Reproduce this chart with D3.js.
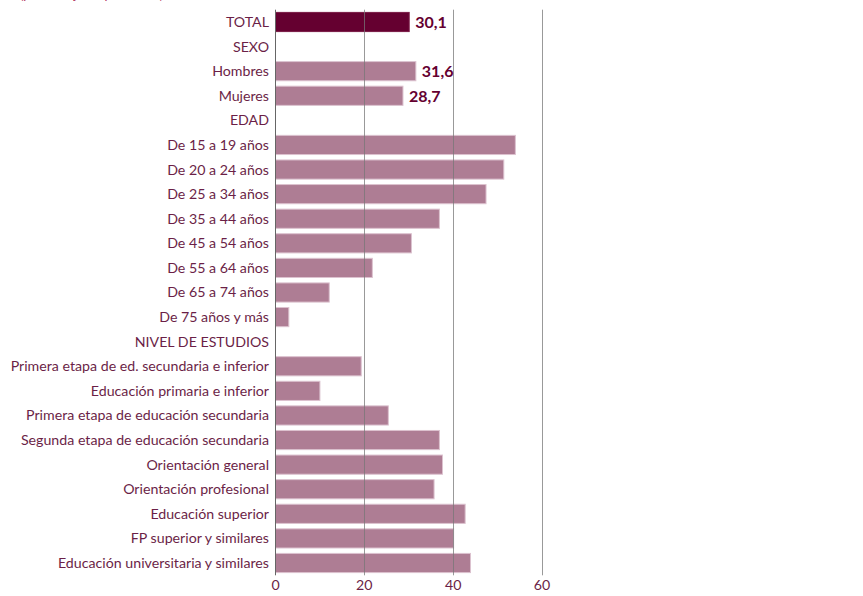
<!DOCTYPE html>
<html>
<head>
<meta charset="utf-8">
<script src="https://cdn.jsdelivr.net/npm/d3@7"></script>
<style>
  body { margin: 0; background: #fff; }
  svg { display: block; font-family: Lato, "Open Sans", sans-serif; }
</style>
</head>
<body>
<script>
// categories, top to bottom
var categories = [
  'TOTAL', 'SEXO', 'Hombres', 'Mujeres', 'EDAD',
  'De 15 a 19 años', 'De 20 a 24 años', 'De 25 a 34 años', 'De 35 a 44 años',
  'De 45 a 54 años', 'De 55 a 64 años', 'De 65 a 74 años', 'De 75 años y más',
  'NIVEL DE ESTUDIOS',
  'Primera etapa de ed. secundaria e inferior', 'Educación primaria e inferior',
  'Primera etapa de educación secundaria', 'Segunda etapa de educación secundaria',
  'Orientación general', 'Orientación profesional', 'Educación superior',
  'FP superior y similares', 'Educación universitaria y similares'
];
// null = section header (no bar)
var values = [
  30.1, null, 31.6, 28.7, null,
  54.0, 51.4, 47.4, 36.9,
  30.6, 21.8, 12.1, 3.0,
  null,
  19.3, 10.0,
  25.4, 36.9,
  37.6, 35.7, 42.7,
  40.1, 43.9
];
var labelled = ['TOTAL', 'Hombres', 'Mujeres'];
var xTicks = [0, 20, 40, 60];

var width = 863, height = 596;
var margin = {top: 9.7, right: 321, bottom: 20.7, left: 275.5};

var svg = d3.select('body').append('svg')
    .attr('width', width)
    .attr('height', height);

// clipped subtitle at the very top
svg.append('text')
    .attr('x', 20)
    .attr('y', -1)
    .attr('font-size', 13)
    .attr('fill', '#b0325a')
    .text('(porcentaje de población)');

var x = d3.scaleLinear()
    .domain([0, 60])
    .range([margin.left, width - margin.right]);

var y = d3.scaleBand()
    .domain(categories)
    .range([margin.top, height - margin.bottom])
    .paddingInner(0.22)
    .paddingOuter(0.11);

var data = categories.map(function (c, i) { return {cat: c, value: values[i]}; });

// bars
svg.append('g')
  .selectAll('rect')
  .data(data.filter(function (d) { return d.value !== null; }))
  .enter().append('rect')
    .attr('x', x(0))
    .attr('y', function (d) { return y(d.cat); })
    .attr('width', function (d) { return x(d.value) - x(0); })
    .attr('height', y.bandwidth())
    .attr('fill', function (d) { return d.cat === 'TOTAL' ? '#650030' : '#ae7d94'; })
    .attr('stroke', function (d) { return d.cat === 'TOTAL' ? '#7a1a45' : '#dcc2cf'; })
    .attr('stroke-width', 1);

// gridlines over the bars
var gridTop = margin.top, gridBottom = height - margin.bottom;
svg.append('g')
  .selectAll('line')
  .data(xTicks.slice(1))
  .enter().append('line')
    .attr('x1', function (d) { return Math.round(x(d)) + 0.5; })
    .attr('x2', function (d) { return Math.round(x(d)) + 0.5; })
    .attr('y1', gridTop)
    .attr('y2', gridBottom)
    .attr('stroke', '#777')
    .attr('stroke-opacity', 0.75);

// left axis line
svg.append('line')
    .attr('x1', x(0)).attr('x2', x(0))
    .attr('y1', gridTop).attr('y2', gridBottom)
    .attr('stroke', '#666');

// category labels
svg.append('g')
  .selectAll('text')
  .data(categories)
  .enter().append('text')
    .attr('x', x(0) - 6.5)
    .attr('y', function (d) { return y(d) + y.bandwidth() / 2; })
    .attr('dy', '0.35em')
    .attr('text-anchor', 'end')
    .attr('font-size', 14.2)
    .attr('fill', '#6b1f47')
    .text(function (d) { return d; });

// value labels
svg.append('g')
  .selectAll('text')
  .data(data.filter(function (d) { return labelled.indexOf(d.cat) >= 0; }))
  .enter().append('text')
    .attr('x', function (d) { return x(d.value) + 6; })
    .attr('y', function (d) { return y(d.cat) + y.bandwidth() / 2; })
    .attr('dy', '0.36em')
    .attr('font-size', 16)
    .attr('font-weight', 'bold')
    .attr('fill', '#650030')
    .text(function (d) { return d3.format('.1f')(d.value).replace('.', ','); });

// x tick labels
svg.append('g')
  .selectAll('text')
  .data(xTicks)
  .enter().append('text')
    .attr('x', function (d) { return x(d); })
    .attr('y', 590)
    .attr('text-anchor', 'middle')
    .attr('font-size', 14.2)
    .attr('fill', '#6b1f47')
    .text(function (d) { return d; });
</script>
</body>
</html>
